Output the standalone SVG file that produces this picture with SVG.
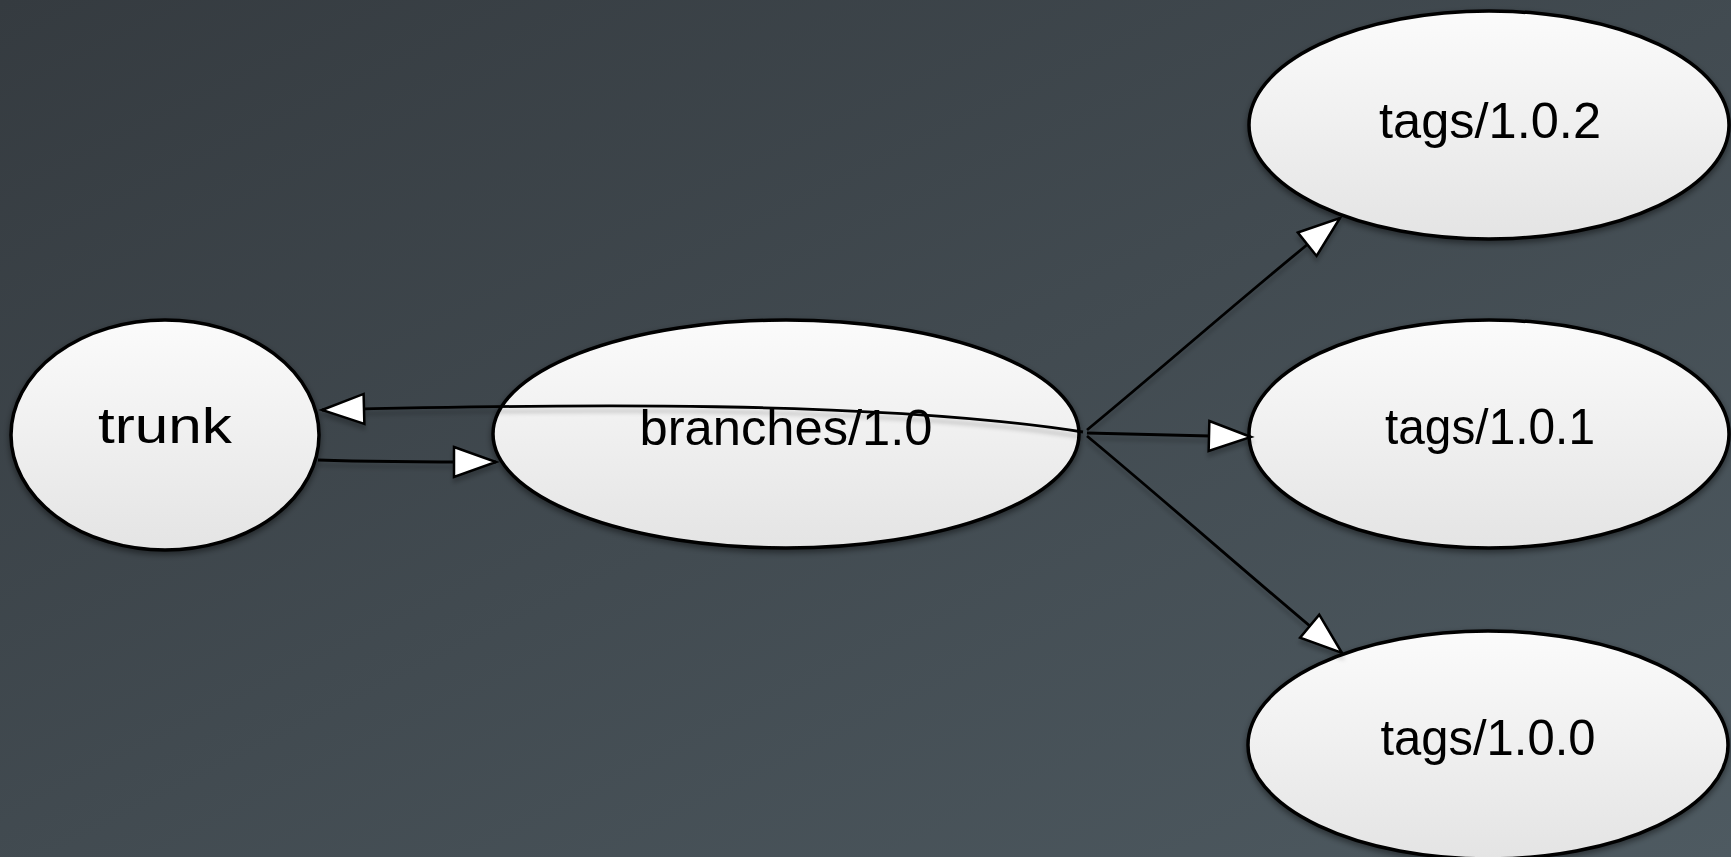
<svg xmlns="http://www.w3.org/2000/svg" width="1731" height="857" viewBox="0 0 1731 857">
<defs>
<linearGradient id="bg" x1="0" y1="0" x2="1" y2="1">
<stop offset="0" stop-color="#353b40"/>
<stop offset="1" stop-color="#4e5a61"/>
</linearGradient>
<linearGradient id="nodefill" x1="0" y1="0" x2="0" y2="1">
<stop offset="0" stop-color="#fbfbfb"/>
<stop offset="1" stop-color="#e4e4e4"/>
</linearGradient>
<filter id="nshadow" x="-10%" y="-10%" width="120%" height="130%">
<feDropShadow dx="0" dy="3" stdDeviation="3" flood-color="#000" flood-opacity="0.45"/>
</filter>
<filter id="eshadow" filterUnits="userSpaceOnUse" x="0" y="0" width="1731" height="857">
<feDropShadow dx="0" dy="5" stdDeviation="2" flood-color="#000" flood-opacity="0.22"/>
</filter>
<marker id="arrow" viewBox="0 0 48 36" markerUnits="userSpaceOnUse" markerWidth="48" markerHeight="36" refX="44" refY="17" orient="auto">
<path d="M2,2 L44,17 L2,32 Z" fill="#ffffff" stroke="#000" stroke-width="2.5" stroke-linejoin="miter"/>
</marker>
</defs>
<style>
.node ellipse { fill: url(#nodefill); stroke: #000; stroke-width: 3.5; filter: url(#nshadow); }
.node text { font-family: "Liberation Sans", "DejaVu Sans", sans-serif; font-size: 50px; fill: #000; text-anchor: middle; }
.edge { fill: none; stroke: #000; stroke-width: 2.8; marker-end: url(#arrow); }
</style>
<rect x="0" y="0" width="1731" height="857" fill="url(#bg)"/>
<g id="trunk" class="node">
<ellipse cx="165" cy="435" rx="154" ry="115"/>
<text x="165" y="443" textLength="134" lengthAdjust="spacingAndGlyphs">trunk</text>
</g>
<g id="branches" class="node">
<ellipse cx="786" cy="434" rx="293" ry="114"/>
<text x="786" y="445" textLength="293" lengthAdjust="spacingAndGlyphs">branches/1.0</text>
</g>
<g id="tag102" class="node">
<ellipse cx="1489" cy="125" rx="240" ry="114"/>
<text x="1490" y="138" textLength="222" lengthAdjust="spacingAndGlyphs">tags/1.0.2</text>
</g>
<g id="tag101" class="node">
<ellipse cx="1489" cy="434" rx="240" ry="114"/>
<text x="1490" y="444" textLength="210" lengthAdjust="spacingAndGlyphs">tags/1.0.1</text>
</g>
<g id="tag100" class="node">
<ellipse cx="1488" cy="745" rx="240" ry="114"/>
<text x="1488" y="755" textLength="215" lengthAdjust="spacingAndGlyphs">tags/1.0.0</text>
</g>
<g id="edges" filter="url(#eshadow)">
<path class="edge" d="M318,460 C380,462 430,462 496,462"/>
<path class="edge" d="M1083,432 C880,400 560,404 322,410"/>
<path class="edge" d="M1087,430 C1160,370 1250,290 1340,218"/>
<path class="edge" d="M1087,433 L1251,437"/>
<path class="edge" d="M1087,436 C1170,505 1260,585 1342,653"/>
</g>
</svg>
